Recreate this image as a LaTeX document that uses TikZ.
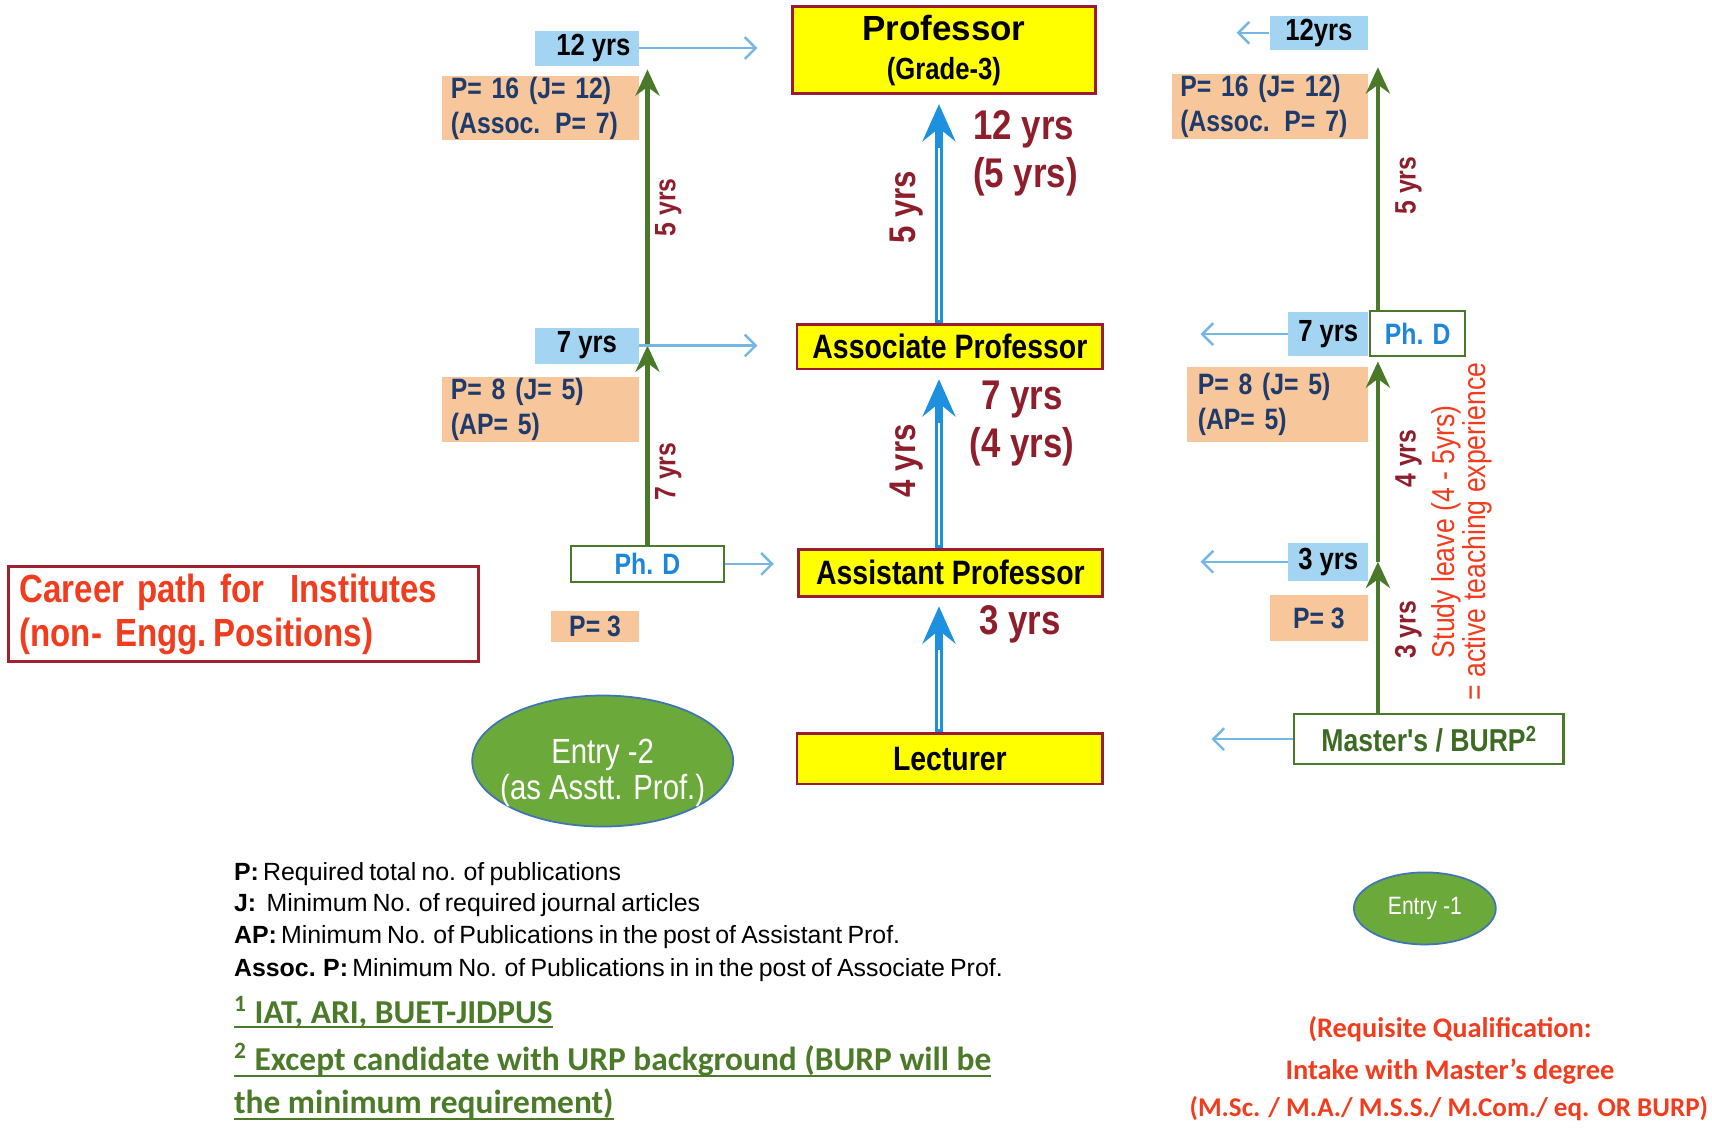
\documentclass[tikz,border=0pt]{standalone}
\usepackage{fontspec}
\setmainfont{Liberation Sans}
\newfontfamily\narfont[FakeStretch=0.84]{Liberation Sans}
\newfontfamily\legfont[WordSpace=0.75]{Liberation Sans}
\newfontfamily\calfont{Carlito}
\usetikzlibrary{arrows.meta,shapes.geometric}
\definecolor{rankyellow}{HTML}{FFFF00}
\definecolor{rankborder}{HTML}{9B1B30}
\definecolor{lblue}{HTML}{A3D5F2}
\definecolor{peach}{HTML}{F7C79B}
\definecolor{navy}{HTML}{1F3B6B}
\definecolor{mred}{HTML}{8E1E2C}
\definecolor{agreen}{HTML}{4A7A29}
\definecolor{arrblue}{HTML}{1E90E0}
\definecolor{thinblue}{HTML}{74B6E4}
\definecolor{ellgreen}{HTML}{6BAA3A}
\definecolor{ellborder}{HTML}{3F74B5}
\definecolor{bred}{HTML}{F23C1E}
\definecolor{phdblue}{HTML}{1C86DA}
\definecolor{careerborder}{HTML}{A3202E}
\definecolor{fgreen}{HTML}{4B7A28}
\definecolor{mgreen}{HTML}{3E6B23}
\newcommand\myuline[1]{\leavevmode\vtop{\hbox{#1}\kern-0.5pt\hrule height 0.9pt}}
\begin{document}
\begin{tikzpicture}[x=0.5pt,y=-0.5pt,
  rank/.style={draw=rankborder, line width=1.3pt, fill=rankyellow, inner sep=0pt, align=center, text=black},
  yrsbox/.style={fill=lblue, inner sep=0pt, text=black, font=\narfont\bfseries\fontsize{14}{16}\selectfont},
  pubbox/.style={fill=peach, inner xsep=4pt, inner ysep=0pt, text=navy, align=left, font=\narfont\bfseries\fontsize{13.5}{16}\selectfont},
  phdbox/.style={draw=agreen, line width=1pt, fill=white, inner sep=0pt, text=phdblue, font=\narfont\bfseries\fontsize{13.5}{16}\selectfont},
  bluearr/.style={draw=arrblue, line width=3.4pt, shorten >=4pt, -{Stealth[length=17pt,width=15pt,inset=6pt]}},
  bluecore/.style={draw=white, line width=1pt, shorten >=24pt, shorten <=1.5pt},
  greenarr/.style={draw=agreen, line width=2pt, -{Stealth[length=12pt,width=11pt,inset=4pt]}},
  thinarr/.style={draw=thinblue, line width=1.1pt, -{Straight Barb[length=5pt,width=10pt]}},
  bigyrs/.style={text=mred, font=\narfont\bfseries\fontsize{19}{22}\selectfont},
  midyrs/.style={text=mred, font=\narfont\bfseries\fontsize{17}{20}\selectfont, rotate=90},
  smallyrs/.style={text=mred, font=\narfont\bfseries\fontsize{13.5}{16}\selectfont, rotate=90},
  entry/.style={ellipse, draw=ellborder, line width=0.8pt, fill=ellgreen, inner sep=0pt, text=white, align=center},
  legendtxt/.style={anchor=base west, inner sep=0pt, text=black, font=\legfont\fontsize{11.4}{13}\selectfont},
  foot/.style={anchor=base west, inner sep=0pt, text=fgreen, font=\calfont\bfseries\fontsize{15.3}{17}\selectfont},
  req/.style={anchor=base, inner sep=0pt, text=bred, font=\calfont\bfseries\fontsize{13}{16}\selectfont}
]
\useasboundingbox (0,0) rectangle (1568,1034);
\fill[white] (0,0) rectangle (1568,1034);

% ---------- centre column ----------
\node[rank, minimum width=138.5pt, minimum height=40pt, font=\fontsize{16}{18}\selectfont] (prof) at (864.5,46)
  {{\bfseries Professor}\\{\narfont\bfseries\fontsize{14}{15}\selectfont (Grade-3)}};
\node[rank, minimum width=140pt, minimum height=20.5pt, font=\narfont\bfseries\fontsize{15.5}{17}\selectfont] (assoc) at (870,317.5) {Associate Professor};
\node[rank, minimum width=139.5pt, minimum height=21.5pt, font=\narfont\bfseries\fontsize{15.5}{17}\selectfont] (asst) at (870.5,524.5) {Assistant Professor};
\node[rank, minimum width=140pt, minimum height=23pt, font=\narfont\bfseries\fontsize{15.5}{17}\selectfont] (lect) at (870,695) {Lecturer};

\coordinate (bx) at (860,0);
\draw[bluearr] (assoc.north -| bx) -- (prof.south -| bx);
\draw[bluecore] (assoc.north -| bx) -- (prof.south -| bx);
\draw[bluearr] (asst.north -| bx) -- (assoc.south -| bx);
\draw[bluecore] (asst.north -| bx) -- (assoc.south -| bx);
\draw[bluearr] (lect.north -| bx) -- (asst.south -| bx);
\draw[bluecore] (lect.north -| bx) -- (asst.south -| bx);

\node[bigyrs, anchor=west, align=left, inner sep=0pt] (c12) at (891,140) {12 yrs\\(5 yrs)};
\node[bigyrs, align=center, inner sep=0pt] (c7) at (936,388) {7 yrs\\(4 yrs)};
\node[bigyrs, inner sep=0pt] (c3) at (934,572) {3 yrs};
\node[midyrs, inner sep=0pt] (c5r) at (830,190) {5 yrs};
\node[midyrs, inner sep=0pt] (c4r) at (830,422) {4 yrs};

% ---------- left column ----------
\node[yrsbox, minimum width=47.5pt, minimum height=16pt] (ly12) at (537.5,44) {\hspace*{6pt}12 yrs};
\node[pubbox, text width=82pt, minimum height=29pt] (lp16) at (495,99) {P= 16 (J= 12)\\(Assoc. P= 7)};
\node[yrsbox, minimum width=47.5pt, minimum height=16.5pt] (ly7) at (537.5,316.5) {7 yrs};
\node[pubbox, text width=82pt, minimum height=30pt] (lp8) at (495,375) {P= 8 (J= 5)\\(AP= 5)};
\node[phdbox, minimum width=70pt, minimum height=16.5pt] (lphd) at (593,516.5) {Ph. D};
\node[pubbox, inner xsep=0pt, minimum width=40pt, minimum height=14pt] (lp3) at (545,574) {P= 3};

\node[draw=careerborder, line width=1.5pt, fill=white, minimum width=215pt, minimum height=42.5pt, inner xsep=5pt, text width=205pt, align=left, text=bred, font=\narfont\bfseries\fontsize{18}{20}\selectfont] (career) at (223,562.5)
  {Career path for\ \ Institutes\\(non- Engg.\,Positions)};

\node[entry, inner xsep=-5pt, minimum width=119.5pt, minimum height=60pt, font=\narfont\fontsize{16}{16.5}\selectfont] (entry2) at (552,697)
  {\raisebox{-10.5pt}[0pt][0pt]{\begin{tabular}{@{}c@{}}Entry -2\\(as Asstt. Prof.)\end{tabular}}};

\draw[greenarr] (lphd.north) -- (ly7.center -| lphd.north);
\draw[greenarr] (ly7.center -| lphd.north) -- ([yshift=3pt]lp16.north -| lphd.north);
\node[smallyrs, inner sep=0pt] (l5r) at (612,190) {5 yrs};
\node[smallyrs, inner sep=0pt] (l7r) at (612,432) {7 yrs};

\draw[thinarr] (ly12.east) -- ([xshift=-15.5pt]ly12.east -| prof.west);
\draw[thinarr] (ly7.east) -- ([xshift=-17.5pt]ly7.east -| assoc.west);
\draw[thinarr] (lphd.east) -- ([xshift=-10.5pt]lphd.east -| asst.west);

% ---------- right column ----------
\node[yrsbox, minimum width=45pt, minimum height=15.5pt] (ry12) at (1208,30) {12yrs};
\node[pubbox, text width=82pt, minimum height=29.5pt] (rp16) at (1163,97.5) {P= 16 (J= 12)\\(Assoc. P= 7)};
\node[yrsbox, minimum width=36.5pt, minimum height=20pt] (ry7) at (1216.5,306) {7 yrs};
\node[phdbox, minimum width=43.5pt, minimum height=20.5pt] (rphd) at (1298.5,305.5) {Ph. D};
\node[pubbox, inner xsep=5pt, text width=73pt, minimum height=34.5pt] (rp8) at (1170,370.5) {P= 8 (J= 5)\\(AP= 5)};
\node[yrsbox, minimum width=36.5pt, minimum height=17.5pt] (ry3) at (1216.5,514.5) {3 yrs};
\node[pubbox, inner xsep=0pt, minimum width=45pt, minimum height=21pt] (rp3) at (1208,566) {P= 3};
\node[phdbox, text=mgreen, minimum width=123.5pt, minimum height=23pt, font=\narfont\bfseries\fontsize{14.5}{16}\selectfont] (masters) at (1308.5,677) {Master's / BURP\raisebox{5pt}{\fontsize{10}{10}\selectfont 2}};

\coordinate (rgx) at (1262,0);
\draw[greenarr] (masters.north -| rgx) -- (ry3.center -| rgx);
\draw[greenarr] (ry3.center -| rgx) -- ([yshift=-2pt]rphd.south -| rgx);
\draw[greenarr] (rphd.north -| rgx) -- ([yshift=3pt]rp16.north -| rgx);

\node[smallyrs, inner sep=0pt] (r5r) at (1290,170) {5 yrs};
\node[smallyrs, inner sep=0pt] (r4r) at (1290,420) {4 yrs};
\node[smallyrs, inner sep=0pt] (r3r) at (1290,577) {3 yrs};
\node[rotate=90, inner sep=0pt, align=center, text=bred, font=\narfont\fontsize{14.5}{14}\selectfont] (study) at (1339,487)
  {Study leave (4 - 5yrs)\\= active teaching experience};

\draw[thinarr] (ry12.west) -- ([xshift=30pt]ry12.west -| rp16.west);
\draw[thinarr] (ry7.west) -- ([xshift=13.5pt]ry7.west -| rp16.west);
\draw[thinarr] (ry3.west) -- ([xshift=13.5pt]ry3.west -| rp16.west);
\draw[thinarr] (masters.west) -- ([xshift=18.5pt]masters.west -| rp16.west);

\node[entry, minimum width=65pt, minimum height=33pt, font=\narfont\fontsize{11.5}{13}\selectfont] (entry1) at (1305,832) {Entry -1};

\node[req] (req1) at (1328,950) {(Requisite Qualification:};
\node[req] (req2) at (1328,989) {Intake with Master’s degree};
\node[req, font=\calfont\bfseries\fontsize{12.4}{15}\selectfont] (req3) at (1327,1023) {(M.Sc. / M.A./ M.S.S./ M.Com./ eq. OR BURP)};

% ---------- legend ----------
\node[legendtxt] (lg1) at (214,806) {\textbf{P:}\,Required total no. of publications};
\node[legendtxt] (lg2) at (214,835) {\textbf{J:}\ \ Minimum No. of required journal articles};
\node[legendtxt] (lg3) at (214,864) {\textbf{AP:}\,Minimum No. of Publications in the post of Assistant Prof.};
\node[legendtxt] (lg4) at (214,894) {\textbf{Assoc. P:}\,Minimum No. of Publications in in the post of Associate Prof.};

\node[foot] (f1) at (214,937) {\myuline{\textsuperscript{1} IAT, ARI, BUET-JIDPUS}};
\node[foot] (f2) at (214,980) {\myuline{\textsuperscript{2} Except candidate with URP background (BURP will be}};
\node[foot] (f3) at (214,1020) {\myuline{the minimum requirement)}};
\end{tikzpicture}
\end{document}
